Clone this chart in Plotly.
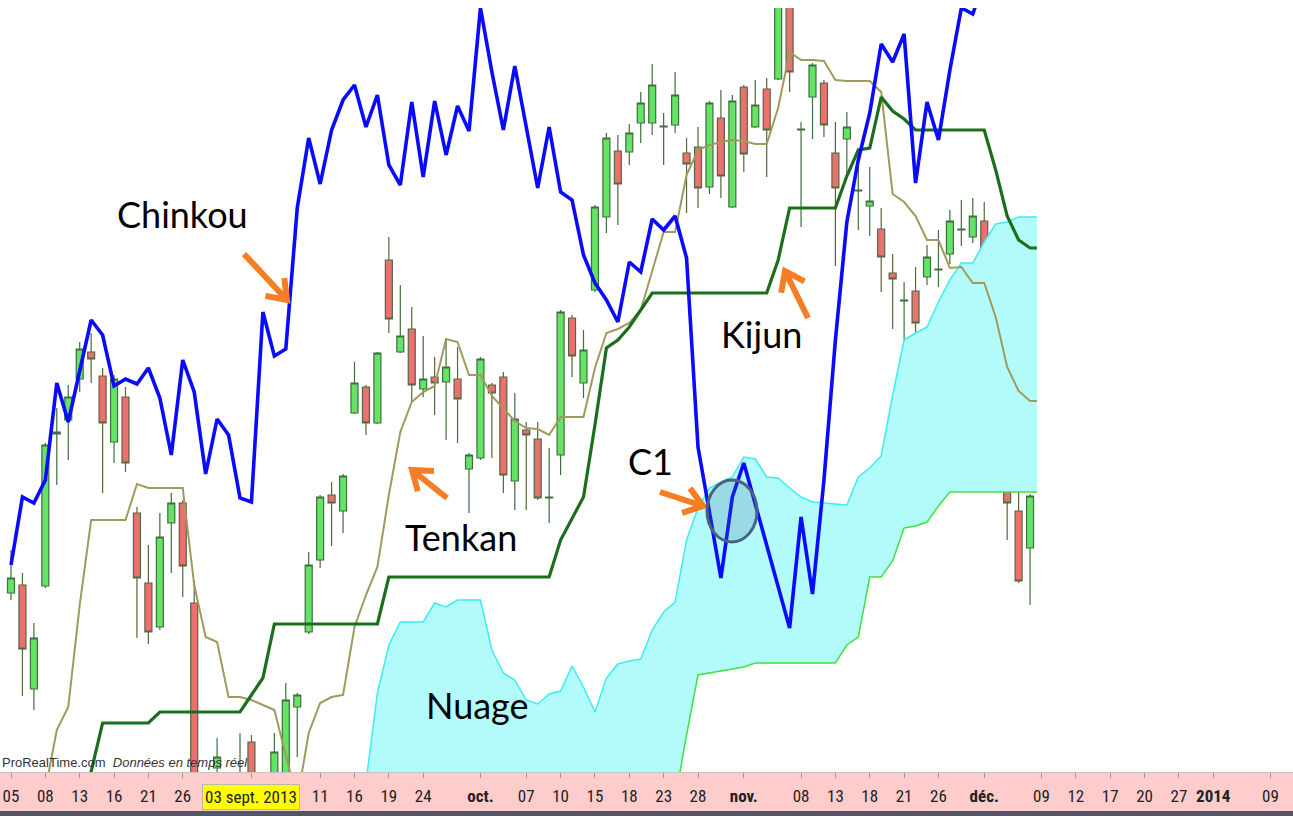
import math
import pandas as pd
import plotly.graph_objects as go

W, H = 1293, 816

# ---------------- categories: trading days (Euronext calendar) ----------------
holidays = {"2013-12-25", "2013-12-26", "2014-01-01"}
dates = [d.strftime("%Y-%m-%d") for d in pd.bdate_range("2013-08-05", "2014-01-09")
         if d.strftime("%Y-%m-%d") not in holidays]

# ---------------- candles (daily OHLC) ----------------
open_ = [407, 415, 311, 414, 566, 580, 621, 648, 624, 558,
         603, 487, 417, 373, 477, 497, 397, 150, 232, 200,
         200, 258, 200, 200, 210, 293, 368, 440, 505, 489,
         587, 613, 577, 740, 648, 671, 611, 623, 618, 621,
         531, 542, 615, 623, 519, 570, 561, 502, 545, 682,
         617, 710, 783, 849, 848, 877, 877, 873, 875, 847,
         853, 813, 882, 793, 913, 873, 911, 921, 1000, 870,
         903, 917, 847, 861, 809, 794, 771, 727, 699, 709,
         723, 730, 746, 770, 763, 779, 726, 573, 489, 452]
high = [450, 427, 377, 557, 592, 615, 658, 667, 632, 625,
        613, 493, 455, 487, 507, 500, 420, 170, 262, 210,
        267, 265, 215, 267, 317, 307, 448, 505, 518, 526,
        638, 615, 648, 763, 715, 693, 664, 643, 660, 653,
        547, 643, 617, 628, 607, 578, 578, 552, 690, 685,
        670, 795, 867, 865, 876, 908, 936, 887, 928, 862,
        873, 899, 910, 905, 915, 920, 922, 1060, 1104, 878,
        937, 920, 878, 888, 836, 833, 792, 746, 718, 733,
        755, 770, 790, 800, 802, 798, 728, 585, 508, 506]
low = [400, 304, 290, 412, 515, 540, 608, 617, 507, 537,
       528, 362, 356, 370, 427, 403, 130, 105, 220, 150,
       180, 180, 170, 190, 200, 243, 366, 432, 454, 467,
       586, 565, 576, 667, 647, 598, 603, 585, 560, 557,
       487, 540, 542, 507, 490, 490, 500, 477, 525, 623,
       602, 708, 767, 775, 835, 857, 865, 835, 867, 787,
       792, 806, 802, 792, 828, 872, 823, 920, 908, 773,
       861, 863, 734, 825, 770, 764, 708, 671, 661, 633,
       715, 713, 736, 754, 757, 724, 553, 460, 417, 395]
close = [422, 351, 362, 555, 568, 603, 651, 641, 577, 621,
         537, 422, 368, 463, 497, 434, 150, 120, 243, 180,
         220, 200, 190, 248, 300, 305, 435, 503, 497, 524,
         617, 577, 647, 681, 664, 615, 621, 617, 633, 601,
         545, 641, 607, 525, 581, 565, 502, 503, 688, 644,
         650, 793, 862, 816, 867, 897, 915, 874, 905, 836,
         812, 897, 824, 899, 846, 895, 870, 998, 928, 871,
         935, 875, 812, 873, 810, 799, 743, 721, 700, 677,
         743, 731, 779, 771, 784, 739, 554, 497, 419, 504]

# ---------------- Ichimoku lines ----------------
chinkou = [435, 503, 497, 520, 617, 578, 629, 680, 665, 614,
           621, 616, 632, 602, 545, 640, 608, 526, 581, 565,
           502, 498, 688, 644, 651, 792, 862, 816, 870, 900,
           915, 873, 905, 835, 815, 898, 823, 899, 845, 894,
           869, 992, 928, 870, 934, 874, 812, 873, 808, 800,
           745, 717, 700, 678, 738, 728, 781, 770, 784, 742,
           553, 488, 422, 503, 537, 496, 455, 413, 372, 483,
           406, 520, 660, 778, 840, 887, 956, 938, 966, 817,
           898, 860, 930, 992, 986, 1020]
tenkan = [150, 150, 170, 210, 270, 293, 395, 480, 480, 480,
          480, 516, 512, 512, 512, 512, 415, 363, 358, 303,
          303, 300, 295, 290, 245, 200, 267, 297, 303, 305,
          373, 405, 433, 505, 568, 598, 608, 614, 661, 658,
          625, 625, 604, 592, 579, 572, 571, 565, 583, 583,
          583, 632, 667, 671, 677, 690, 728, 768, 768, 825,
          850, 855, 858, 860, 859, 856, 856, 892, 948, 940,
          940, 939, 920, 919, 919, 919, 908, 806, 798, 784,
          760, 760, 732, 733, 717, 717, 683, 633, 609, 599, 599]
kijun = [150, 150, 150, 150, 150, 150, 180, 230, 277, 277,
         277, 277, 277, 288, 288, 288, 288, 288, 288, 288,
         288, 305, 322, 376, 376, 376, 376, 376, 376, 376,
         376, 376, 376, 423, 423, 423, 423, 423, 423, 423,
         423, 423, 423, 423, 423, 423, 423, 423, 460, 482,
         503, 575, 652, 660, 673, 690, 707, 707, 707, 707,
         707, 707, 707, 707, 707, 707, 707, 740, 792, 792,
         792, 792, 792, 824, 850, 852, 903, 889, 881, 870,
         870, 870, 870, 870, 870, 870, 830, 784, 760, 752, 752]
# cloud (senkou spans), from the 31st trading day on
ssa = [140, 218, 307, 355, 378, 378, 378, 397, 393, 400,
       400, 400, 350, 327, 320, 300, 296, 306, 309, 334,
       313, 288, 322, 336, 339, 341, 370, 388, 398, 460,
       492, 512, 518, 523, 543, 541, 523, 522, 512, 503,
       498, 497, 496, 495, 523, 532, 544, 605, 660, 667,
       673, 698, 720, 737, 737, 758, 776, 778, 783, 783, 783]
ssb = [150, 150, 150, 150, 150, 150, 150, 150, 150, 150,
       150, 150, 150, 150, 150, 150, 150, 150, 150, 150,
       150, 150, 150, 150, 150, 150, 150, 150, 200, 265,
       325, 327, 329, 331, 333, 337, 337, 337, 337, 337,
       337, 337, 337, 355, 363, 423, 423, 439, 472, 474,
       478, 494, 508, 508, 508, 508, 508, 508, 508, 508, 508]
cloud_start = 30

# ---------------- axis tick labels ----------------
tick_dates = ["2013-08-05", "2013-08-08", "2013-08-13", "2013-08-16", "2013-08-21", "2013-08-26",
              "2013-09-03", "2013-09-11", "2013-09-16", "2013-09-19", "2013-09-24", "2013-10-01",
              "2013-10-07", "2013-10-10", "2013-10-15", "2013-10-18", "2013-10-23", "2013-10-28",
              "2013-11-01", "2013-11-08", "2013-11-13", "2013-11-18", "2013-11-21", "2013-11-26",
              "2013-12-02", "2013-12-09", "2013-12-12", "2013-12-17", "2013-12-20", "2013-12-27",
              "2014-01-02", "2014-01-09"]
tick_labels = ["05", "08", "13", "16", "21", "26", "03 sept. 2013", "11", "16", "19", "24", "oct.",
               "07", "10", "15", "18", "23", "28", "nov.", "08", "13", "18", "21", "26",
               "déc.", "09", "12", "17", "20", "27", "2014", "09"]
bold_labels = {"oct.", "nov.", "déc.", "2014"}
highlight_label = "03 sept. 2013"

# ---------------- figure ----------------
TICKFONT = dict(family="Liberation Sans Narrow, Arial Narrow, Roboto Condensed, DejaVu Sans Condensed, sans-serif",
                size=17, color="#222222")

n = len(close)
fig = go.Figure()

cloud_x = dates[cloud_start:cloud_start + len(ssa)]
fig.add_trace(go.Scatter(x=cloud_x, y=ssb, mode="lines",
                         line=dict(color="#3fe23f", width=1.5)))
fig.add_trace(go.Scatter(x=cloud_x, y=ssa, mode="lines", fill="tonexty",
                         fillcolor="#b3fbfb", line=dict(color="#3aeef0", width=1.5)))

fig.add_trace(go.Candlestick(
    x=dates[:n], open=open_, high=high, low=low, close=close,
    increasing=dict(line=dict(color="#3f6e3f", width=1.2), fillcolor="#64e464"),
    decreasing=dict(line=dict(color="#56663e", width=1.2), fillcolor="#ec7070"),
))

fig.add_trace(go.Scatter(x=dates[:len(tenkan)], y=tenkan, mode="lines",
                         line=dict(color="#a09a5c", width=2)))
fig.add_trace(go.Scatter(x=dates[:len(kijun)], y=kijun, mode="lines",
                         line=dict(color="#1b6e1b", width=3.2)))
fig.add_trace(go.Scatter(x=dates[:len(chinkou)], y=chinkou, mode="lines",
                         line=dict(color="#0a0aff", width=3.6)))

PLOT_TOP, PLOT_BOT = 8, 772


def P(px, py):
    """pixel position in the picture -> paper coordinates"""
    return px / W, (PLOT_BOT - py) / (PLOT_BOT - PLOT_TOP)


shapes = []
# right part of the chart left blank
shapes.append(dict(type="rect", xref="x", yref="paper", x0=n - 0.4, x1=len(dates) + 2, y0=0, y1=1,
                   fillcolor="white", line=dict(width=0), layer="above"))
# pink date band and dark bottom strip
_, yb1 = P(0, 811)
_, yb2 = P(0, 817)
shapes.append(dict(type="rect", xref="paper", yref="paper", x0=0, x1=1, y0=yb1, y1=0,
                   fillcolor="#ffcccc", line=dict(width=0), layer="below"))
shapes.append(dict(type="rect", xref="paper", yref="paper", x0=0, x1=1, y0=yb2, y1=yb1,
                   fillcolor="#4d5865", line=dict(width=0), layer="below"))

# orange arrows
ORANGE = "#f57d23"


def arrow(tail, tip, head=22, ang=36):
    dx, dy = tail[0] - tip[0], tail[1] - tip[1]
    L = math.hypot(dx, dy)
    ux, uy = dx / L, dy / L
    arms = []
    for s in (1, -1):
        a = math.radians(ang * s)
        rx = ux * math.cos(a) - uy * math.sin(a)
        ry = ux * math.sin(a) + uy * math.cos(a)
        arms.append((tip[0] + rx * head, tip[1] + ry * head))
    pts = [P(*tail), P(*tip), P(*arms[0]), P(*tip), P(*arms[1])]
    path = "M{:.5f},{:.5f} L{:.5f},{:.5f} M{:.5f},{:.5f} L{:.5f},{:.5f} L{:.5f},{:.5f}".format(
        *[c for p in pts for c in p])
    return dict(type="path", xref="paper", yref="paper", path=path,
                line=dict(color=ORANGE, width=6), layer="above")


shapes.append(arrow((244, 254), (287, 300)))   # Chinkou
shapes.append(arrow((447, 498), (412, 470)))   # Tenkan
shapes.append(arrow((808, 318), (785, 271)))   # Kijun
shapes.append(arrow((660, 492), (703, 506)))   # C1

# circle on C1
cx0, cy0 = P(707, 542)
cx1, cy1 = P(757, 480)
shapes.append(dict(type="circle", xref="paper", yref="paper", x0=cx0, y0=cy0, x1=cx1, y1=cy1,
                   fillcolor="rgba(60,105,150,0.22)", line=dict(color="#4a6282", width=3),
                   layer="above"))

annotations = []
LABEL_FONT = dict(family="Lato, Carlito, Open Sans, sans-serif", size=36, color="black")
for text, (px, py) in [("Chinkou", (182, 214)), ("Kijun", (762, 334)), ("Tenkan", (461, 537)),
                       ("C1", (650, 461)), ("Nuage", (477, 705))]:
    xp, yp = P(px, py)
    annotations.append(dict(text=text, x=xp, y=yp, xref="paper", yref="paper", showarrow=False,
                            xanchor="center", yanchor="middle", font=LABEL_FONT))

wx, wy = P(0, 762)
annotations.append(dict(text="ProRealTime.com  <i>Données en temps réel</i>", x=wx, y=wy,
                        xref="paper", yref="paper", showarrow=False, xanchor="left", yanchor="middle",
                        font=dict(family="Liberation Sans, Arial, sans-serif", size=13, color="#333333")))

_, ty = P(0, 797)
annotations.append(dict(text=highlight_label, x=tick_dates[tick_labels.index(highlight_label)],
                        y=ty, xref="x", yref="paper", showarrow=False, xanchor="center", yanchor="middle",
                        bgcolor="#ffff00", bordercolor="#b8b8a8", borderwidth=1, borderpad=2,
                        font=TICKFONT))

tick_text = []
for lab in tick_labels:
    if lab == highlight_label:
        tick_text.append("")
    elif lab in bold_labels:
        tick_text.append("<b>" + lab + "</b>")
    else:
        tick_text.append(lab)

x_lo = -11 / 11.45
x_hi = (W - 11) / 11.45

fig.update_layout(
    width=W, height=H,
    margin=dict(l=0, r=0, t=PLOT_TOP, b=H - PLOT_BOT),
    paper_bgcolor="white", plot_bgcolor="white",
    showlegend=False, hovermode=False,
    boxgap=0.39, boxgroupgap=0,
    shapes=shapes, annotations=annotations,
    xaxis=dict(type="category", categoryorder="array", categoryarray=dates,
               range=[x_lo, x_hi], tickvals=tick_dates, ticktext=tick_text, tickangle=0,
               ticks="outside", ticklen=5, tickwidth=1, tickcolor="#9a9a9a", ticklabelstandoff=4,
               showgrid=False, zeroline=False, showline=True, linecolor="#c4c4c4", linewidth=1,
               tickfont=TICKFONT, rangeslider=dict(visible=False), fixedrange=True),
    yaxis=dict(range=[228, 992], visible=False, fixedrange=True),
)

fig.write_html("out.html", config={"displayModeBar": False},
               post_script="document.body.style.margin='0px';document.body.style.overflow='hidden';")
